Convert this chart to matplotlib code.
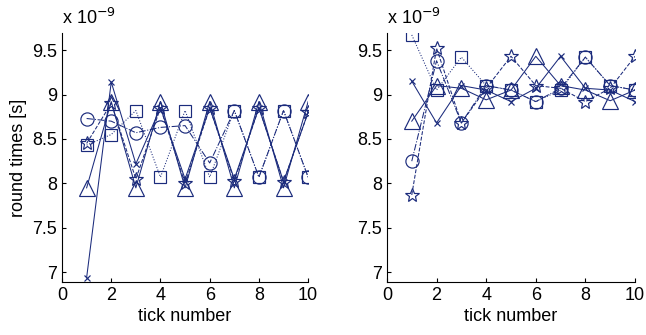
import numpy as np
import matplotlib.pyplot as plt

plt.rcParams['font.family'] = ['Liberation Sans', 'DejaVu Sans']

ticks = np.arange(1, 11)
navy = '#1b2b7c'

# left panel (values in units of 1e-9 s)
left_triangle = [7.95, 8.92, 7.95, 8.92, 7.95, 8.92, 7.95, 8.92, 7.95, 8.92]
left_cross = [6.94, 9.14, 8.22, 8.85, 8.05, 8.85, 8.05, 8.85, 8.02, 8.80]
left_star = [8.45, 8.90, 8.05, 8.85, 8.00, 8.85, 8.03, 8.85, 8.02, 8.80]
left_circle = [8.73, 8.70, 8.57, 8.63, 8.65, 8.23, 8.82, 8.07, 8.82, 8.07]
left_square = [8.43, 8.55, 8.82, 8.07, 8.82, 8.07, 8.82, 8.07, 8.82, 8.07]

# right panel
right_triangle = [8.70, 9.10, 9.07, 8.94, 9.05, 9.43, 9.10, 9.05, 8.93, 9.05]
right_cross = [9.15, 8.68, 9.10, 9.05, 8.92, 9.07, 9.43, 9.07, 9.05, 8.92]
right_star = [7.87, 9.52, 8.68, 9.07, 9.43, 9.10, 9.07, 8.92, 9.07, 9.43]
right_circle = [8.25, 9.38, 8.68, 9.10, 9.05, 8.92, 9.07, 9.42, 9.10, 9.05]
right_square = [9.67, 9.05, 9.42, 9.10, 9.05, 8.92, 9.05, 9.42, 9.10, 9.05]

fig = plt.figure(figsize=(6.46, 3.35), dpi=100)
ax1 = fig.add_axes([0.096, 0.158, 0.381, 0.743])
ax2 = fig.add_axes([0.599, 0.158, 0.384, 0.743])


def draw(ax, tri, crs, star, circ, sq):
    kw = dict(color=navy, mfc='none', mec=navy, lw=0.75, mew=0.85)
    ax.plot(ticks, tri, '-', marker='^', ms=11, **kw)
    ax.plot(ticks, crs, '-', marker='x', ms=5, **kw)
    ax.plot(ticks, star, '--', marker='*', ms=10, **kw)
    ax.plot(ticks, circ, '-.', marker='o', ms=9.5, **kw)
    ax.plot(ticks, sq, ':', marker='s', ms=9, **kw)
    ax.set_xlim(0, 10)
    ax.set_ylim(6.89, 9.69)
    ax.set_xticks([0, 2, 4, 6, 8, 10])
    ax.set_yticks([7, 7.5, 8, 8.5, 9, 9.5])
    ax.set_yticklabels(['7', '7.5', '8', '8.5', '9', '9.5'])
    ax.spines['top'].set_visible(False)
    ax.spines['right'].set_visible(False)
    ax.tick_params(direction='in', labelsize=13, length=3)
    ax.set_xlabel('tick number', fontsize=13, labelpad=3)
    ax.text(0, 1.02, r'x 10$^{-9}$', transform=ax.transAxes, fontsize=13,
            ha='left', va='bottom')


draw(ax1, left_triangle, left_cross, left_star, left_circle, left_square)
draw(ax2, right_triangle, right_cross, right_star, right_circle, right_square)
ax1.set_ylabel('round times [s]', fontsize=13)

fig.savefig('out.png', dpi=100)
